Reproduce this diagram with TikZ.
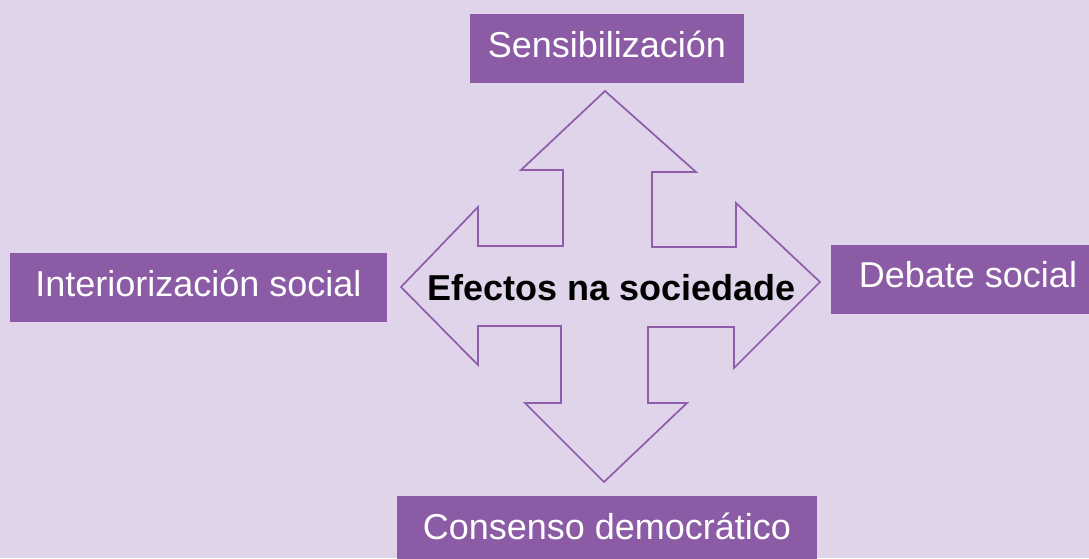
\documentclass[tikz,border=0pt]{standalone}
\usepackage{fontspec}
\setmainfont{Liberation Sans}
\usepackage{tikz}
\definecolor{lila}{HTML}{E0D4EA}
\definecolor{violeta}{HTML}{8B5BA5}
\definecolor{trazo}{HTML}{8E5EAA}

\begin{document}
\begin{tikzpicture}[x=0.75pt,y=-0.75pt,
  caixa/.style={fill=violeta, text=white, font=\fontsize{27}{30}\selectfont,
    inner sep=0pt, text height=13pt, text depth=0pt, minimum height=51.75pt}]
  % fondo
  \fill[lila] (0,0) rectangle (1089,558);
  \useasboundingbox (0,0) rectangle (1089,558);
  \clip (0,0) rectangle (1089,558);

  % frecha de catro puntas
  \draw[trazo, line width=1.3pt, line join=miter]
    (605,91) -- (696,172) -- (652,172) -- (652,247) -- (736,247) -- (736,203)
    -- (820,282) -- (734,368) -- (734,327) -- (648,327) -- (648,403)
    -- (687,403) -- (604,482) -- (525,403) -- (561,403) -- (561,326)
    -- (478,326) -- (478,365) -- (401,287) -- (478,207) -- (478,246)
    -- (563,246) -- (563,170) -- (521,170) -- cycle;
  \node[font=\bfseries\fontsize{27}{30}\selectfont, anchor=base] (efectos) at (611.5,300) {Efectos na sociedade};

  % caixas
  \node[caixa, minimum width=205.5pt] (sens) at (607,48.5) {Sensibilización};
  \node[caixa, minimum width=282.75pt] (inter) at (198.5,287.5) {Interiorización social};
  \node[caixa, minimum width=205.5pt] (debate) at (968,279) {Debate social};
  \node[caixa, minimum width=315pt] (consenso) at (607,530.5) {Consenso democrático};
\end{tikzpicture}
\end{document}
